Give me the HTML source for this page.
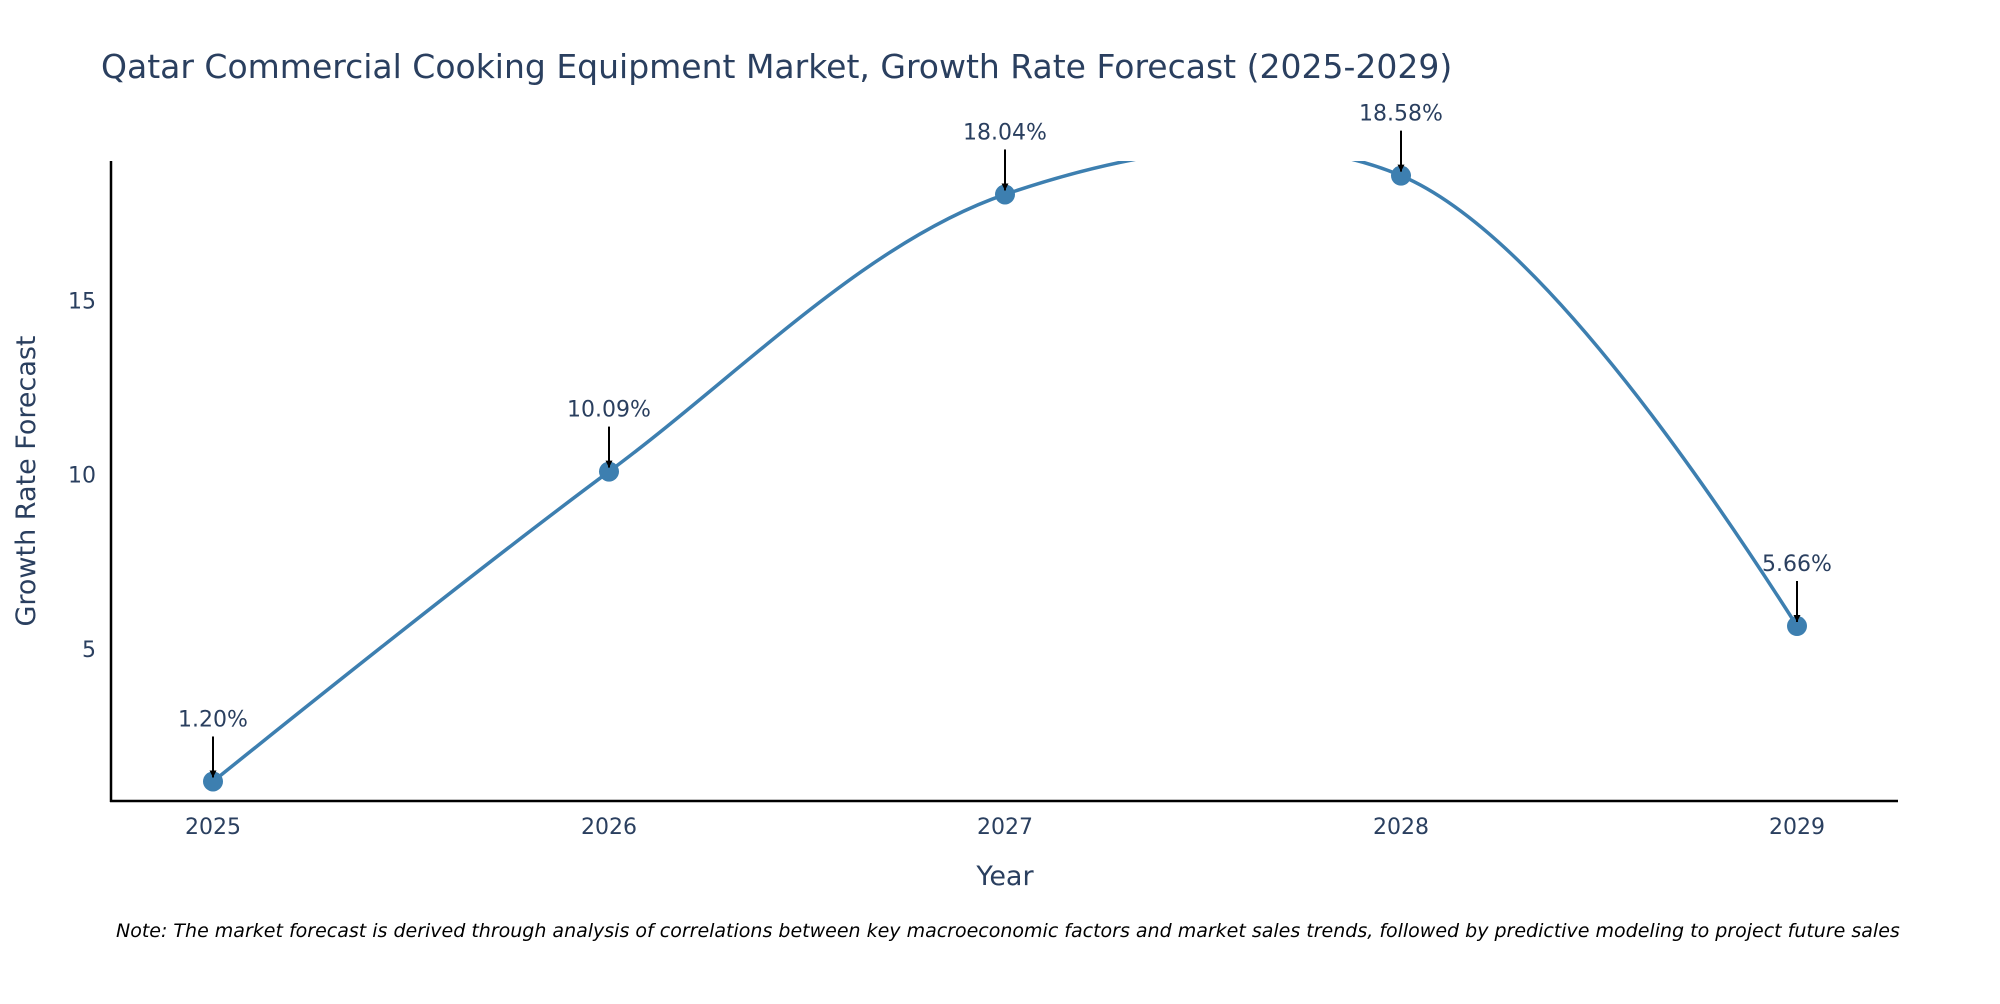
<!DOCTYPE html>
<html><head><meta charset="utf-8"><style>
body{margin:0;background:#fff;width:2000px;height:1000px;overflow:hidden;font-family:"DejaVu Sans","Liberation Sans",sans-serif}
</style></head><body>
<svg id="chart" width="2000" height="1000" xmlns="http://www.w3.org/2000/svg" font-family="DejaVu Sans, Liberation Sans, sans-serif">
<text x="101" y="78" font-size="33" fill="#2a3f5f">Qatar Commercial Cooking Equipment Market, Growth Rate Forecast (2025-2029)</text>
<defs><clipPath id="clip"><rect x="111" y="161" width="1787" height="640"/></clipPath>
<marker id="arr" viewBox="0 0 10 10" refX="10" refY="5" markerWidth="7" markerHeight="7" markerUnits="userSpaceOnUse" orient="auto"><path d="M0,0 L10,5 L0,10 Z" fill="#000"/></marker></defs>
<g id="yticks"></g><g id="xticks"></g>
<path id="line" clip-path="url(#clip)" fill="none" stroke="#3d7fb0" stroke-width="3.5"/>
<g id="marks"></g>
<line x1="111" y1="161" x2="111" y2="802" stroke="#000" stroke-width="2.5"/>
<line x1="110" y1="801" x2="1898" y2="801" stroke="#000" stroke-width="2.5"/>
<text x="1005" y="885" font-size="27" fill="#2a3f5f" text-anchor="middle">Year</text>
<text transform="translate(35,481) rotate(-90)" font-size="27" fill="#2a3f5f" text-anchor="middle">Growth Rate Forecast</text>
<text x="116" y="937" font-size="19" font-style="italic" fill="#000">Note: The market forecast is derived through analysis of correlations between key macroeconomic factors and market sales trends, followed by predictive modeling to project future sales</text>
</svg>
<script>
const years=["2025","2026","2027","2028","2029"];
const values=[1.20,10.09,18.04,18.58,5.66];
const yTicks=[5,10,15];
const NS="http://www.w3.org/2000/svg";
const X0=213,X1=1797,yMin=0.64,yMax=19.0,Ytop=161,Ybot=801;
function xs(i){return X0+(X1-X0)*i/(years.length-1);}
function ys(v){return Ybot-(v-yMin)/(yMax-yMin)*(Ybot-Ytop);}
function mk(t,a){const e=document.createElementNS(NS,t);for(const k in a)e.setAttribute(k,a[k]);return e;}
const yt=document.getElementById('yticks');
yTicks.forEach(t=>{const e=mk('text',{x:96,y:ys(t)+8,'font-size':22,fill:'#2a3f5f','text-anchor':'end'});


e.textContent=t;yt.appendChild(e);});
const xt=document.getElementById('xticks');
years.forEach((y,i)=>{const e=mk('text',{x:xs(i),y:834,'font-size':22,fill:'#2a3f5f','text-anchor':'middle'});


e.textContent=y;xt.appendChild(e);});
const pts=values.map((v,i)=>[xs(i),ys(v)]);
function tan(p,c,n){const d1x=p[0]-c[0],d1y=p[1]-c[1],d2x=n[0]-c[0],d2y=n[1]-c[1];
const a1=Math.pow(d1x*d1x+d1y*d1y,0.25),a2=Math.pow(d2x*d2x+d2y*d2y,0.25);
const nx=a2*a2*d1x-a1*a1*d2x,ny=a2*a2*d1y-a1*a1*d2y;const q1=3*a2*(a1+a2),q2=3*a1*(a1+a2);
return [[c[0]+nx/q1,c[1]+ny/q1],[c[0]-nx/q2,c[1]-ny/q2]];}
const T=[];for(let i=1;i<pts.length-1;i++)T.push(tan(pts[i-1],pts[i],pts[i+1]));
let d='M'+pts[0]+'Q'+T[0][0]+' '+pts[1];
for(let i=1;i<pts.length-2;i++)d+='C'+T[i-1][1]+' '+T[i][0]+' '+pts[i+1];
d+='Q'+T[T.length-1][1]+' '+pts[pts.length-1];
document.getElementById('line').setAttribute('d',d);
const mg=document.getElementById('marks');
values.forEach((v,i)=>{const x=xs(i),y=ys(v);
const c=mk('circle',{cx:x,cy:y,r:10,fill:'#3d7fb0'});


mg.appendChild(c);
const l=mk('line',{x1:x,y1:y-45,x2:x,y2:y-4,stroke:'#000','stroke-width':2,'marker-end':'url(#arr)'});


mg.appendChild(l);
const t=mk('text',{x:x,y:y-55,'font-size':22,fill:'#2a3f5f','text-anchor':'middle'});


t.textContent=v.toFixed(2)+'%';mg.appendChild(t);});
</script>
</body></html>
